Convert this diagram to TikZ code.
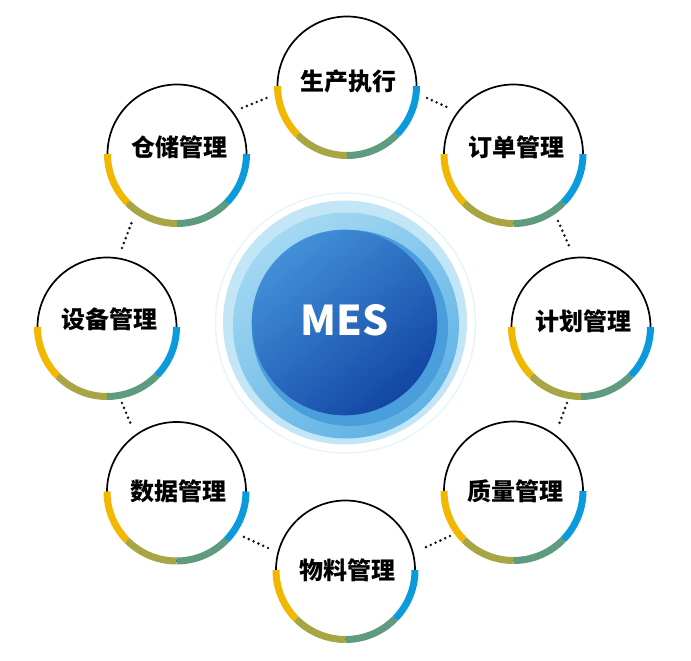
\documentclass[tikz,border=0pt]{standalone}
\usepackage{fontspec}
\newfontfamily\cjk{Noto Sans CJK SC}
\definecolor{cyel}{HTML}{F2B700}
\definecolor{coli}{HTML}{A8A545}
\definecolor{cgrn}{HTML}{5E9B7F}
\definecolor{cblu}{HTML}{0B9BDC}
\definecolor{cfaint}{HTML}{E6F5FC}
\definecolor{cl1}{HTML}{C3E6F7}
\definecolor{cl2a}{HTML}{A3D8F2}
\definecolor{cl2b}{HTML}{5FB2E4}
\definecolor{cl3}{HTML}{4B9EDC}
\definecolor{cina}{HTML}{4290D8}
\definecolor{cinb}{HTML}{1246A4}
\tikzset{
  modc/.style={circle, draw=black, line width=1.7pt, minimum size=139pt, inner sep=0pt, outer sep=0pt},
  lbl/.style={font=\cjk\bfseries\fontsize{24}{24}\selectfont, text=black, inner sep=0pt},
  arcw/.style={line width=7pt},
  dotc/.style={line width=2.9pt, line cap=round, dash pattern=on 0pt off 5.3pt, black!90},
}
\begin{document}
\begin{tikzpicture}[x=1pt,y=1pt]
\useasboundingbox (0,0) rectangle (691,-661);
% central MES
\draw[cfaint, line width=1.5pt] (345.5,-323) circle (130);
\fill[cl1] (345,-322.5) circle (122);
\shade[top color=cl2a, bottom color=cl2b, shading angle=35] (346,-325.5) circle (113);
\fill[cl3] (350,-328) circle (98);
\shade[top color=cina, bottom color=cinb, shading angle=40] (344.5,-322.5) circle (92.8);
\node[font=\cjk\bfseries\fontsize{41}{41}\selectfont, text=white, inner sep=0pt] (mes) at (344.5,-320) {MES};
% module circles
\node[modc] (n1) at (347,-86) {};
\node[modc] (n2) at (513.5,-154) {};
\node[modc] (n3) at (581,-327) {};
\node[modc] (n4) at (513.5,-491) {};
\node[modc] (n5) at (345.5,-570) {};
\node[modc] (n6) at (176.5,-491.5) {};
\node[modc] (n7) at (107,-327) {};
\node[modc] (n8) at (177,-154) {};
\foreach \n in {n1,n2,n3,n4,n5,n6,n7,n8}{
  \draw[arcw, cyel] ([shift={(180:69.5)}]\n.center) arc (180:225:69.5);
  \draw[arcw, coli] ([shift={(225:69.5)}]\n.center) arc (225:270:69.5);
  \draw[arcw, cgrn] ([shift={(270:69.5)}]\n.center) arc (270:316:69.5);
  \draw[arcw, cblu] ([shift={(316:69.5)}]\n.center) arc (316:360:69.5);
}
% labels
\node[lbl] (t1) at (348,-81) {生产执行};
\node[lbl] (t2) at (516,-147) {订单管理};
\node[lbl] (t3) at (583.7,-321) {计划管理};
\node[lbl] (t4) at (515,-491) {质量管理};
\node[lbl] (t5) at (347.5,-570) {物料管理};
\node[lbl] (t6) at (178.7,-491) {数据管理};
\node[lbl] (t7) at (109,-319.5) {设备管理};
\node[lbl] (t8) at (179.7,-147) {仓储管理};
% dotted connectors
\coordinate (d1a) at (242,-108); \coordinate (d1b) at (269,-97);
\coordinate (d2a) at (427,-98);  \coordinate (d2b) at (449,-108);
\coordinate (d3a) at (558,-221); \coordinate (d3b) at (570,-248);
\coordinate (d4a) at (567,-403); \coordinate (d4b) at (558,-427);
\coordinate (d5a) at (450,-536); \coordinate (d5b) at (422,-549);
\coordinate (d6a) at (268,-548); \coordinate (d6b) at (242,-536);
\coordinate (d7a) at (122,-403); \coordinate (d7b) at (132,-427);
\coordinate (d8a) at (122,-248); \coordinate (d8b) at (133,-219);
\foreach \k in {1,...,8}{
  \draw[dotc] (d\k a) -- (d\k b);
}
\end{tikzpicture}
\end{document}
